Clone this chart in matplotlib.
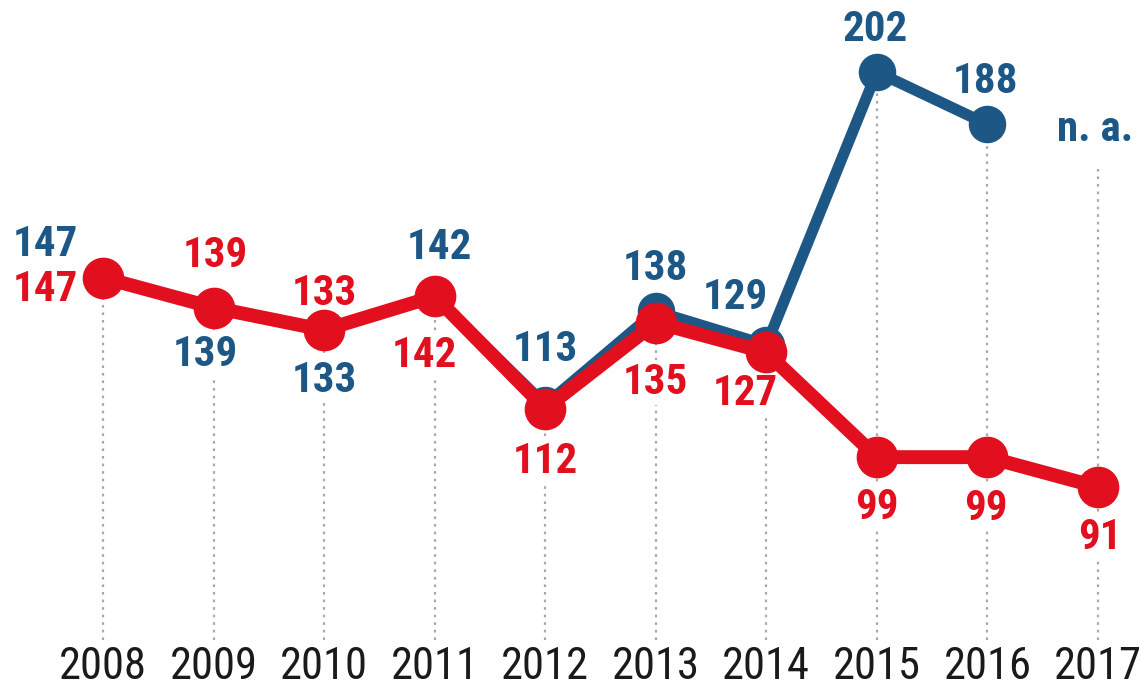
import matplotlib.pyplot as plt

years = ["2008", "2009", "2010", "2011", "2012", "2013", "2014", "2015", "2016", "2017"]
blue = [147, 139, 133, 142, 113, 138, 129, 202, 188]
red = [147, 139, 133, 142, 112, 135, 127, 99, 99, 91]

# label offsets in pixels (dx, dy)
blue_off = [(-58, 33), (-8, -47), (0, -50), (5, 49), (0, 55), (0, 43), (-31, 47), (-2, 42), (-2, 43)]
red_off = [(-58, -12), (2, 52), (0, 37), (-10, -59), (0, -53), (0, -60), (-21, -41), (0, -50), (-2, -51), (2, -50)]

BLUE = "#1c5786"
RED = "#e20f1e"
fam = "Roboto Condensed"

fig = plt.figure(figsize=(11.41, 6.91), dpi=100)
ax = fig.add_axes([0, 51 / 691, 1, 640 / 691])
x = list(range(len(years)))

# dotted guides
for i in x:
    vals = [red[i]] + ([blue[i]] if i < len(blue) else [176])
    ax.plot([i, i], [50, max(vals)], color="#a8a8a8", lw=1.6,
            ls=(0, (1.2, 2.2)), zorder=0)

ax.plot(x[:len(blue)], blue, color=BLUE, lw=8, marker="o", ms=26,
        solid_capstyle="round", zorder=2)
ax.plot(x, red, color=RED, lw=10, marker="o", ms=29,
        solid_capstyle="round", zorder=3)

box = dict(boxstyle="square,pad=0.05", fc="white", ec="none")
for i, v in enumerate(blue):
    ax.annotate(str(v), (i, v), xytext=blue_off[i], textcoords="offset pixels",
                ha="center", va="center", color=BLUE, fontsize=31,
                fontweight="bold", family=fam, bbox=box, zorder=1)
ax.annotate("n. a.", (9, blue[-1]), xytext=(-3, -5), textcoords="offset pixels",
            ha="center", va="center", color=BLUE, fontsize=31,
            fontweight="bold", family=fam, bbox=box, zorder=1)
for i, v in enumerate(red):
    ax.annotate(str(v), (i, v), xytext=red_off[i], textcoords="offset pixels",
                ha="center", va="center", color=RED, fontsize=31,
                fontweight="bold", family=fam, bbox=box, zorder=1)

ax.set_xlim(-0.932, 9.389)
ax.set_ylim(50.1, 221.25)
ax.set_xticks(x)
ax.set_xticklabels(years, fontsize=32, family=fam, color="#1a1a1a")
ax.tick_params(axis="x", length=0, pad=4)
ax.set_yticks([])
for s in ax.spines.values():
    s.set_visible(False)

fig.savefig("out.png", dpi=100)
